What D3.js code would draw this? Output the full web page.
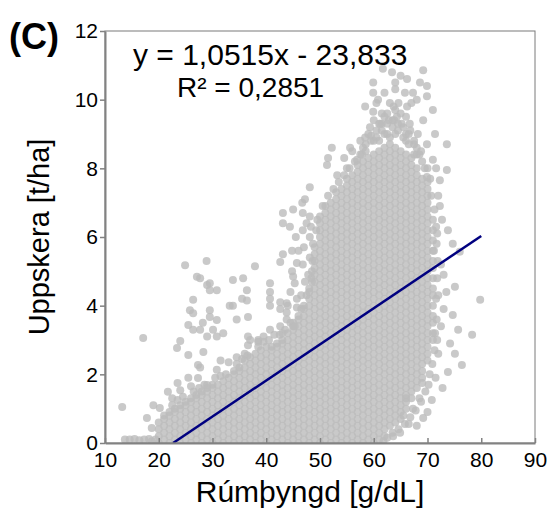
<!DOCTYPE html>
<html>
<head>
<meta charset="utf-8">
<script src="https://cdn.jsdelivr.net/npm/d3@7"></script>
<style>
  body { margin: 0; background: #fff; }
  svg { font-family: "Liberation Sans", Arial, sans-serif; }
</style>
</head>
<body>
<svg id="chart"></svg>
<script>
// axis ticks
const xTicks = [10, 20, 30, 40, 50, 60, 70, 80, 90];
const yTicks = [0, 2, 4, 6, 8, 10, 12];

// dense cloud, read column by column: x [g/dL], y values in tenths of t/ha
const colX = [20, 21, 22, 23, 24, 25, 26, 27, 28, 29, 30, 31, 32, 33, 34, 35, 36, 37, 38, 39,
  40, 41, 42, 43, 44, 45, 46, 47, 48, 49, 50, 51, 52, 53, 54, 55, 56, 57, 58, 59,
  60, 61, 62, 63, 64, 65, 66, 67, 68, 69, 70, 71];
const colY = [
  "0 2 4 6",
  "1 3 5 7 8",
  "0 2 4 6 8 9",
  "1 3 5 7 9 10",
  "0 2 4 6 8 10 11",
  "1 3 5 7 9 11 12",
  "0 2 4 6 8 10 12 13",
  "1 3 5 7 9 11 13 14",
  "0 2 4 6 8 10 12 14 15",
  "1 3 5 7 9 11 13 15 16",
  "0 2 4 6 8 10 12 14 16 17",
  "1 3 5 7 9 11 13 15 17",
  "0 2 4 6 8 10 12 14 16 18",
  "1 3 5 7 9 11 13 15 17 19",
  "0 2 4 6 8 10 12 14 16 18 20 21",
  "1 3 5 7 9 11 13 15 17 19 21 22",
  "0 2 4 6 8 10 12 14 16 18 20 22 24",
  "1 3 5 7 9 11 13 15 17 19 21 23 25",
  "0 2 4 6 8 10 12 14 16 18 20 22 24 26",
  "1 3 5 7 9 11 13 15 17 19 21 23 25 27",
  "0 2 4 6 8 10 12 14 16 18 20 22 24 26 28",
  "1 3 5 7 9 11 13 15 17 19 21 23 25 27 28",
  "0 2 4 6 8 10 12 14 16 18 20 22 24 26 28 29",
  "1 3 5 7 9 11 13 15 17 19 21 23 25 27 29 30",
  "0 2 4 6 8 10 12 14 16 18 20 22 24 26 28 30 32",
  "1 3 5 7 9 11 13 15 17 19 21 23 25 27 29 31 33 34",
  "0 2 4 6 8 10 12 14 16 18 20 22 24 26 28 30 32 34 36 37",
  "1 3 5 7 9 11 13 15 17 19 21 23 25 27 29 31 33 35 37 39 40",
  "0 2 4 6 8 10 12 14 16 18 20 22 24 26 28 30 32 34 36 38 40 42 44 45",
  "1 3 5 7 9 11 13 15 17 19 21 23 25 27 29 31 33 35 37 39 41 43 45 47 49 51 53 55 57",
  "0 2 4 6 8 10 12 14 16 18 20 22 24 26 28 30 32 34 36 38 40 42 44 46 48 50 52 54 56 58 60 62 64 66",
  "1 3 5 7 9 11 13 15 17 19 21 23 25 27 29 31 33 35 37 39 41 43 45 47 49 51 53 55 57 59 61 63 65 67 69",
  "0 2 4 6 8 10 12 14 16 18 20 22 24 26 28 30 32 34 36 38 40 42 44 46 48 50 52 54 56 58 60 62 64 66 68 70",
  "1 3 5 7 9 11 13 15 17 19 21 23 25 27 29 31 33 35 37 39 41 43 45 47 49 51 53 55 57 59 61 63 65 67 69 71 73",
  "0 2 4 6 8 10 12 14 16 18 20 22 24 26 28 30 32 34 36 38 40 42 44 46 48 50 52 54 56 58 60 62 64 66 68 70 72 74",
  "1 3 5 7 9 11 13 15 17 19 21 23 25 27 29 31 33 35 37 39 41 43 45 47 49 51 53 55 57 59 61 63 65 67 69 71 73 75 77",
  "0 2 4 6 8 10 12 14 16 18 20 22 24 26 28 30 32 34 36 38 40 42 44 46 48 50 52 54 56 58 60 62 64 66 68 70 72 74 76 78",
  "1 3 5 7 9 11 13 15 17 19 21 23 25 27 29 31 33 35 37 39 41 43 45 47 49 51 53 55 57 59 61 63 65 67 69 71 73 75 77 79 81",
  "0 2 4 6 8 10 12 14 16 18 20 22 24 26 28 30 32 34 36 38 40 42 44 46 48 50 52 54 56 58 60 62 64 66 68 70 72 74 76 78 80 82",
  "1 3 5 7 9 11 13 15 17 19 21 23 25 27 29 31 33 35 37 39 41 43 45 47 49 51 53 55 57 59 61 63 65 67 69 71 73 75 77 79 81 83",
  "0 2 4 6 8 10 12 14 16 18 20 22 24 26 28 30 32 34 36 38 40 42 44 46 48 50 52 54 56 58 60 62 64 66 68 70 72 74 76 78 80 82 84",
  "1 3 5 7 9 11 13 15 17 19 21 23 25 27 29 31 33 35 37 39 41 43 45 47 49 51 53 55 57 59 61 63 65 67 69 71 73 75 77 79 81 83 85",
  "2 4 6 8 10 12 14 16 18 20 22 24 26 28 30 32 34 36 38 40 42 44 46 48 50 52 54 56 58 60 62 64 66 68 70 72 74 76 78 80 82 84 86",
  "5 7 9 11 13 15 17 19 21 23 25 27 29 31 33 35 37 39 41 43 45 47 49 51 53 55 57 59 61 63 65 67 69 71 73 75 77 79 81 83 85 87",
  "6 8 10 12 14 16 18 20 22 24 26 28 30 32 34 36 38 40 42 44 46 48 50 52 54 56 58 60 62 64 66 68 70 72 74 76 78 80 82 84 86",
  "7 9 11 13 15 17 19 21 23 25 27 29 31 33 35 37 39 41 43 45 47 49 51 53 55 57 59 61 63 65 67 69 71 73 75 77 79 81 83 85",
  "10 12 14 16 18 20 22 24 26 28 30 32 34 36 38 40 42 44 46 48 50 52 54 56 58 60 62 64 66 68 70 72 74 76 78 80 82 84",
  "13 15 17 19 21 23 25 27 29 31 33 35 37 39 41 43 45 47 49 51 53 55 57 59 61 63 65 67 69 71 73 75 77 79 81 83",
  "16 18 20 22 24 26 28 30 32 34 36 38 40 42 44 46 48 50 52 54 56 58 60 62 64 66 68 70 72 74 76 78 80",
  "19 21 23 25 27 29 31 33 35 37 39 41 43 45 47 49 51 53 55 57 59 61 63 65 67 69 71 73 75 77",
  "24 26 28 30 32 34 36 38 40 42 44 46 48 50 52 54 56 58 60 62 64 66 68 70 72 74 76",
  "30 32 35 37 40 43 45 48 51 53 56 59 62 65"
];

// ragged points along the edge of the dense cloud
const edgeX = [22.5, 23.5, 24.5, 26.5, 27.5, 28.5, 30.5, 31.5, 32.5, 34.5, 35.5, 36.5, 38.5, 39.5, 40.5, 42.5,
  43.5, 44.5, 46.5, 47.5, 48.5, 48.6, 48.7, 49.3, 49.5, 48.4,
  50.5, 51.5, 52.5, 53.5, 54.5, 55.5, 56.5, 57.5, 58.5, 59.5, 60.5, 61.5, 62.5, 63.5, 64.5, 65.5,
  66.5, 67.5, 68.5, 69.5, 70.5, 58.0, 60.0, 62.0, 64.0, 66.0, 68.0,
  70.7, 71.3, 71.6, 71.7, 71.9, 71.8, 71.6, 71.7, 71.4, 71.3, 70.9, 70.4, 69.6, 68.8, 67.8, 66.8,
  65.8, 64.6, 63.6];
const edgeY = [1.10, 1.25, 1.35, 1.50, 1.60, 1.70, 1.90, 1.95, 2.00, 2.30, 2.45, 2.55, 2.80, 2.95, 3.00, 3.15,
  3.30, 3.50, 3.90, 4.30, 4.70, 5.30, 5.80, 6.20, 6.50, 4.80,
  6.90, 7.20, 7.40, 7.60, 7.80, 8.00, 8.20, 8.40, 8.70, 8.95, 9.10, 9.30, 9.30, 9.40, 9.30, 9.20,
  9.00, 8.70, 8.40, 8.00, 7.70, 8.60, 8.80, 9.00, 9.00, 8.80, 8.40,
  7.20, 6.80, 6.30, 5.80, 5.30, 4.80, 4.20, 3.60, 3.20, 2.70, 2.30, 2.00, 1.50, 1.20, 0.95, 0.75,
  0.55, 0.40, 0.20];

// scattered points outside the dense cloud
const outX = [13.7, 14.6, 15.5, 16.4, 17.3, 18.2, 18.7, 19.4, 13.2, 17.1, 17.8, 18.7, 19.0, 20.2, 21.7, 24.0,
  23.4, 24.0, 25.5, 25.5, 25.8, 26.4, 26.4, 27.3, 28.3, 27.3, 30.8, 29.0, 25.5, 27.7, 24.9, 28.9,
  27.1, 27.7, 29.5, 29.0, 30.8, 29.5, 33.8, 35.7, 37.9, 40.7, 40.7, 40.7, 40.7, 36.4, 36.4, 36.6,
  33.8, 33.2, 29.5, 29.5, 30.8, 28.2, 30.1, 27.7, 26.4, 29.0, 30.8, 36.6, 36.6, 40.7, 42.6, 43.0,
  45.0, 42.6, 43.8, 45.7, 45.3, 45.0, 45.7, 44.8, 43.1, 42.6, 42.6, 44.0, 45.7, 43.8, 43.8, 45.3,
  37.0, 35.5, 38.5, 34.5, 32.0, 22.5, 23.5, 26.0, 31.5, 33.0, 34.5, 36.0, 38.5, 39.5, 41.5,
  43.1, 43.1, 44.4, 45.0, 46.7, 46.8, 47.2, 48.1, 46.8, 48.1, 48.1, 47.0, 48.1, 46.8, 48.5, 47.2,
  46.5, 44.8, 46.0, 44.5, 47.8, 48.3, 45.5, 47.5,
  52.2, 51.5, 51.3, 53.2, 55.6, 56.9, 55.0, 54.5, 58.4, 59.3, 60.0, 58.4, 59.9, 59.9, 59.9, 61.7,
  63.4, 62.5, 63.0, 61.0, 64.0, 64.0, 64.3, 65.8, 66.2, 66.2, 66.7, 67.3, 68.0, 68.6, 69.2, 69.9,
  69.9, 69.2, 68.2, 71.0, 71.4, 69.9, 73.6, 71.0, 71.6, 73.6, 69.9, 72.3, 72.7, 72.3, 71.8, 61.5,
  62.8, 63.7, 64.6, 65.2, 66.0, 67.5, 60.5, 62.0, 65.0, 57.5, 56.0,
  58.5, 59.5, 60.5, 61.5, 62.5, 63.5, 64.5, 65.5, 66.5, 67.5, 61.0, 63.0, 65.0, 62.0, 64.0, 66.0,
  67.0, 68.0, 69.0, 70.0, 60.8, 57.8, 59.0, 61.2, 63.8, 66.8, 68.8,
  74.7, 76.0, 75.1, 74.7, 75.7, 78.3, 79.8, 74.2, 75.1, 73.8, 76.4, 70.8, 69.2, 67.3, 64.9, 72.5,
  73.0, 72.0, 73.0, 72.5, 72.0, 71.5, 72.8, 70.0, 68.0, 66.5, 71.2, 73.8, 72.0, 73.5, 71.8, 62.5,
  63.5, 61.8, 65.5, 66.0, 68.5, 70.2, 69.0];
const outY = [0.10, 0.10, 0.12, 0.08, 0.10, 0.12, 0.05, 0.10, 1.05, 3.06, 0.73, 0.44, 1.10, 1.02, 1.49, 1.54,
  2.77, 2.97, 2.56, 3.44, 3.87, 3.78, 4.17, 2.27, 2.65, 1.89, 2.13, 1.69, 1.90, 2.20, 5.18, 5.30,
  4.84, 4.80, 4.65, 4.60, 4.45, 4.45, 4.75, 4.80, 5.15, 4.65, 4.40, 4.20, 4.00, 4.45, 4.15, 3.67,
  4.00, 4.00, 3.87, 3.67, 3.58, 3.50, 3.30, 3.30, 3.30, 3.10, 3.10, 3.10, 2.85, 3.30, 3.40, 3.20,
  3.50, 3.90, 4.07, 3.95, 4.65, 4.85, 5.24, 5.60, 5.50, 5.27, 4.10, 4.00, 4.20, 3.80, 3.60, 3.40,
  3.00, 4.20, 3.00, 3.60, 3.20, 1.30, 1.75, 1.65, 2.40, 2.35, 2.50, 2.60, 2.95, 3.10, 3.15,
  6.70, 6.40, 6.30, 6.80, 7.00, 6.70, 7.10, 7.45, 6.20, 6.60, 6.00, 5.70, 5.40, 5.20, 5.00, 4.70,
  4.30, 5.00, 5.60, 4.40, 4.90, 6.30, 6.00, 6.40,
  8.60, 8.30, 8.10, 7.80, 8.60, 8.25, 8.00, 8.30, 8.90, 9.20, 9.40, 9.80, 9.65, 10.20, 10.50, 10.90,
  10.80, 9.60, 9.90, 9.30, 10.50, 10.30, 9.50, 10.20, 10.60, 9.80, 9.30, 10.20, 10.00, 10.50, 10.86, 10.40,
  10.10, 9.40, 9.00, 9.70, 9.00, 8.70, 8.70, 8.25, 8.00, 7.95, 7.75, 7.65, 6.50, 6.90, 6.10, 9.60,
  9.40, 9.80, 9.90, 9.30, 9.00, 8.80, 9.90, 10.20, 10.70, 8.80, 8.50,
  8.50, 8.80, 8.90, 9.10, 9.00, 9.20, 9.10, 8.90, 8.70, 8.40, 8.80, 8.90, 9.60, 9.50, 9.70, 9.50,
  9.90, 8.60, 8.20, 8.00, 10.00, 8.40, 9.00, 9.30, 9.40, 9.10, 8.50,
  5.80, 5.57, 4.55, 3.73, 3.30, 3.15, 4.17, 2.90, 2.60, 2.07, 2.27, 1.25, 0.73, 1.00, 0.30, 5.20,
  4.90, 4.30, 3.90, 3.40, 2.60, 1.90, 1.60, 0.90, 0.50, 0.55, 5.60, 6.20, 7.20, 4.40, 3.00, 0.15,
  0.30, 0.05, 0.80, 1.30, 1.30, 1.70, 1.75];

// trendline as drawn in the figure
const lineX = [22.67, 80];
const lineY = [0, 6.03];

// trendline label, two lines
const eqLines = ["y = 1,0515x - 23,833", "R² = 0,2851"];

const width = 554, height = 516;
const margin = {top: 31, right: 19, bottom: 73, left: 105};

const svg = d3.select("#chart").attr("width", width).attr("height", height);

const x = d3.scaleLinear().domain([10, 90]).range([margin.left, width - margin.right]);
const y = d3.scaleLinear().domain([0, 12]).range([height - margin.bottom, margin.top]);

// build points table
const points = [];
colX.forEach((cx, i) => {
  colY[i].split(" ").forEach(v => points.push({x: cx, y: +v / 10}));
});
edgeX.forEach((ex, i) => points.push({x: ex, y: edgeY[i]}));
outX.forEach((ox, i) => points.push({x: ox, y: outY[i]}));

svg.append("clipPath").attr("id", "plotClip")
  .append("rect")
  .attr("x", x(10)).attr("y", y(12))
  .attr("width", x(90) - x(10)).attr("height", y(0) - y(12));

svg.append("g")
  .attr("clip-path", "url(#plotClip)")
  .selectAll("circle")
  .data(points)
  .join("circle")
  .attr("cx", d => x(d.x))
  .attr("cy", d => y(d.y))
  .attr("r", 4)
  .attr("fill", "#bcbcbc")
  .attr("fill-opacity", 0.8);

// trendline
svg.append("line")
  .attr("x1", x(lineX[0])).attr("y1", y(lineY[0]))
  .attr("x2", x(lineX[1])).attr("y2", y(lineY[1]))
  .attr("stroke", "#000080")
  .attr("stroke-width", 2.5);

// plot frame
svg.append("rect")
  .attr("x", x(10)).attr("y", y(12))
  .attr("width", x(90) - x(10)).attr("height", y(0) - y(12))
  .attr("fill", "none")
  .attr("stroke", "#7a7a7a")
  .attr("stroke-width", 1);

// axes
const xAxis = d3.axisBottom(x).tickValues(xTicks).tickSizeInner(-5).tickSizeOuter(0).tickPadding(9);
const yAxis = d3.axisLeft(y).tickValues(yTicks).tickSizeInner(5).tickSizeOuter(0).tickPadding(2);

const xAxisG = svg.append("g")
  .attr("transform", `translate(0,${y(0)})`)
  .call(xAxis);
const yAxisG = svg.append("g")
  .attr("transform", `translate(${x(10)},0)`)
  .call(yAxis);

[xAxisG, yAxisG].forEach(g => {
  g.select(".domain").attr("stroke", "#828282").attr("stroke-width", 2);
  g.selectAll(".tick line").attr("stroke", "#828282").attr("stroke-width", 1.5);
  g.selectAll(".tick text")
    .attr("fill", "#000")
    .style("font-size", "21px")
    .style("font-family", "'Liberation Sans', Arial, sans-serif");
});

// titles
svg.append("text")
  .attr("x", 310).attr("y", 502)
  .attr("text-anchor", "middle")
  .style("font-size", "30px")
  .text("Rúmþyngd [g/dL]");

svg.append("text")
  .attr("transform", "translate(49,237) rotate(-90)")
  .attr("text-anchor", "middle")
  .style("font-size", "29px")
  .text("Uppskera [t/ha]");

svg.append("text")
  .attr("x", 9).attr("y", 49)
  .style("font-size", "36px")
  .style("font-weight", "bold")
  .text("(C)");

// trendline equation
svg.append("text")
  .attr("x", 133).attr("y", 65)
  .style("font-size", "30px")
  .text(eqLines[0]);
svg.append("text")
  .attr("x", 177).attr("y", 97)
  .style("font-size", "28px")
  .text(eqLines[1]);
</script>
</body>
</html>
